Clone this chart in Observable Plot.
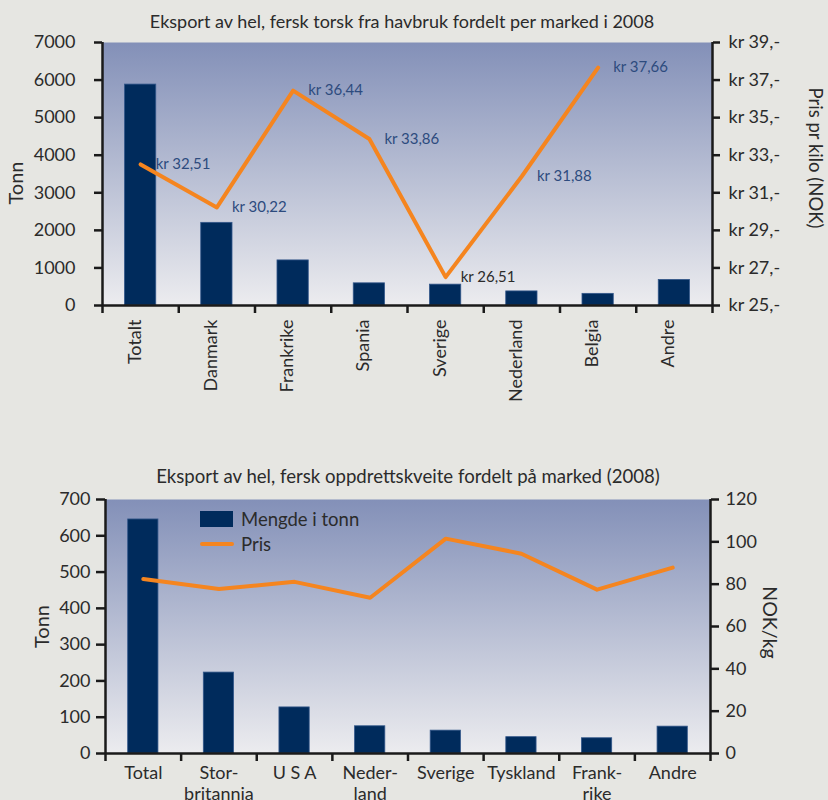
<!DOCTYPE html>
<html>
<head>
<meta charset="utf-8">
<script src="https://cdn.jsdelivr.net/npm/d3@7"></script>
<script src="https://cdn.jsdelivr.net/npm/@observablehq/plot@0.6"></script>
<style>
  body { margin: 0; background: #e6e6e2; font-family: Lato, sans-serif; }
  #wrap { position: relative; width: 828px; height: 800px; overflow: hidden; }
  .title { position: absolute; left: 0; width: 808px; text-align: center; line-height: 22px; color: #2b2b2b; white-space: nowrap; }
  .chart { position: absolute; left: 0; }
  .legend { position: absolute; left: 200px; top: 508px; font-size: 18.5px; color: #2b2b2b; }
  .legend .row { position: relative; height: 25px; }
  .legend .sw { position: absolute; left: 0; top: 3px; width: 33px; height: 16px; background: #002b5c; }
  .legend .ln { position: absolute; left: 0; top: 34px; width: 34px; height: 4px; background: #f5851f; border-radius: 2px; }
  .legend .tx { position: absolute; left: 41px; top: 0; line-height: 22px; white-space: nowrap; }
</style>
</head>
<body>
<div id="wrap">
  <div class="chart" id="c1" style="top:0"></div>
  <div class="chart" id="c2" style="top:460px"></div>
  <div class="title" id="t1" style="top:10px;font-size:18px;width:804px"></div>
  <div class="title" id="t2" style="top:465px;font-size:18.6px;width:816px"></div>
  <div class="legend" id="leg"></div>
</div>
<script>
// ---------- Chart 1 data ----------
const title1 = "Eksport av hel, fersk torsk fra havbruk fordelt per marked i 2008";
const markets1 = ["Totalt", "Danmark", "Frankrike", "Spania", "Sverige", "Nederland", "Belgia", "Andre"];
const tonn1 = [5880, 2200, 1200, 590, 555, 375, 310, 680];
const pris1 = [32.51, 30.22, 36.44, 33.86, 26.51, 31.88, 37.66]; // Andre: no price
const tonnTicks1 = [0, 1000, 2000, 3000, 4000, 5000, 6000, 7000];
const prisTicks1 = [25, 27, 29, 31, 33, 35, 37, 39];
const yLabel1 = "Tonn";
const y2Label1 = "Pris pr kilo (NOK)";

// ---------- Chart 2 data ----------
const title2 = "Eksport av hel, fersk oppdrettskveite fordelt på marked (2008)";
const markets2 = ["Total", "Stor-\nbritannia", "U S A", "Neder-\nland", "Sverige", "Tyskland", "Frank-\nrike", "Andre"];
const tonn2 = [645, 223, 127, 75, 63, 45, 42, 74];
const pris2 = [82.4, 77.7, 81.1, 73.6, 101.5, 94.4, 77.4, 87.8];
const tonnTicks2 = [0, 100, 200, 300, 400, 500, 600, 700];
const prisTicks2 = [0, 20, 40, 60, 80, 100, 120];
const yLabel2 = "Tonn";
const y2Label2 = "NOK/kg";
const legendLabels = ["Mengde i tonn", "Pris"];

const NAVY = "#002b5c", ORANGE = "#f5851f", AXIS = "#1a1a1a", TXT = "#2b2b2b";

document.getElementById("t1").textContent = title1;
document.getElementById("t2").textContent = title2;

function addGradient(el, id) {
  const svg = el.tagName.toLowerCase() === "svg" ? el : el.querySelector("svg");
  d3.select(svg).insert("defs", ":first-child").html(
    `<linearGradient id="${id}" x1="0" y1="0" x2="0" y2="1">
       <stop offset="0" stop-color="#8390b8"/>
       <stop offset="1" stop-color="#ececef"/>
     </linearGradient>`);
}

// ---------- Chart 1 ----------
{
  const max = 7000, pMin = 25, pMax = 39;
  const toY = p => (p - pMin) * max / (pMax - pMin);
  const fromY = v => pMin + v * (pMax - pMin) / max;
  const idx = markets1.map((d, i) => i);
  const pIdx = pris1.map((d, i) => i);
  const fmt = d => "kr " + d.toFixed(2).replace(".", ",");
  const n = markets1.length;
  const plot = Plot.plot({
    width: 828, height: 460,
    marginTop: 42, marginBottom: 155, marginLeft: 102, marginRight: 116,
    style: { fontFamily: "Lato, sans-serif", fontSize: "18px", color: TXT, background: "transparent", overflow: "visible" },
    x: { type: "linear", domain: [0, n], axis: null },
    y: { domain: [0, max], axis: null },
    marks: [
      Plot.frame({ fill: "url(#grad1)", stroke: "none" }),
      Plot.rectY(idx, { x1: i => i + 0.295, x2: i => i + 0.705, y1: 0, y2: i => tonn1[i], fill: NAVY, stroke: "#33578a", strokeWidth: 0.8 }),
      Plot.line(pIdx, { x: i => i + 0.5, y: i => toY(pris1[i]), stroke: ORANGE, strokeWidth: 4 }),
      Plot.text(pIdx.filter(i => i !== 4), { x: i => i + 0.5, y: i => toY(pris1[i]), text: i => fmt(pris1[i]), dx: 15, textAnchor: "start", fill: "#2d4b7e", fontSize: 15 }),
      Plot.text(pIdx.filter(i => i === 4), { x: i => i + 0.5, y: i => toY(pris1[i]), text: i => fmt(pris1[i]), dx: 15, textAnchor: "start", fill: "#2b2b2b", fontSize: 15 }),
      Plot.axisY(tonnTicks1, { anchor: "left", tickSize: 8, tickPadding: 19, label: null, stroke: AXIS, strokeWidth: 2.5, fill: TXT, fontSize: 18, tickFormat: v => String(v) }),
      Plot.axisY(prisTicks1.map(toY), { anchor: "right", tickSize: 7, tickPadding: 9, label: null, stroke: AXIS, strokeWidth: 2.5, fill: TXT, fontSize: 18, tickFormat: v => `kr ${Math.round(fromY(v))},-` }),
      Plot.axisX(d3.range(0, n + 1), { anchor: "bottom", tickSize: 8, label: null, stroke: AXIS, strokeWidth: 2.5, tickFormat: () => "" }),
      Plot.ruleY([0], { stroke: AXIS, strokeWidth: 2.5 }),
      Plot.ruleX([0, n], { stroke: AXIS, strokeWidth: 2.5 }),
      Plot.text(markets1, { x: (d, i) => i + 0.5, frameAnchor: "bottom", dy: 14, rotate: -90, textAnchor: "end", fontSize: 18, fill: TXT }),
      Plot.text([yLabel1], { frameAnchor: "left", dx: -86, dy: 9, rotate: -90, textAnchor: "middle", fontSize: 20, fill: TXT }),
      Plot.text([y2Label1], { frameAnchor: "right", dx: 102, dy: -16, rotate: 90, textAnchor: "middle", fontSize: 18.5, fill: TXT })
    ]
  });
  addGradient(plot, "grad1");
  document.getElementById("c1").appendChild(plot);
}

// ---------- Chart 2 ----------
{
  const max = 700, pMax = 120;
  const toY = p => p * max / pMax;
  const fromY = v => v * pMax / max;
  const idx = markets2.map((d, i) => i);
  const n = markets2.length;
  const plot = Plot.plot({
    width: 828, height: 340,
    marginTop: 39, marginBottom: 47, marginLeft: 105, marginRight: 118,
    style: { fontFamily: "Lato, sans-serif", fontSize: "18px", color: TXT, background: "transparent", overflow: "visible" },
    x: { type: "linear", domain: [0, n], axis: null },
    y: { domain: [0, max], axis: null },
    marks: [
      Plot.frame({ fill: "url(#grad2)", stroke: "none" }),
      Plot.rectY(idx, { x1: i => i + 0.3, x2: i => i + 0.7, y1: 0, y2: i => tonn2[i], fill: NAVY, stroke: "#33578a", strokeWidth: 0.8 }),
      Plot.line(idx, { x: i => i + 0.5, y: i => toY(pris2[i]), stroke: ORANGE, strokeWidth: 4 }),
      Plot.axisY(tonnTicks2, { anchor: "left", tickSize: 9, tickPadding: 6, label: null, stroke: AXIS, strokeWidth: 2.5, fill: TXT, fontSize: 18, tickFormat: v => String(v) }),
      Plot.axisY(prisTicks2.map(toY), { anchor: "right", tickSize: 8, tickPadding: 7, label: null, stroke: AXIS, strokeWidth: 2.5, fill: TXT, fontSize: 18, tickFormat: v => String(Math.round(fromY(v))) }),
      Plot.axisX(d3.range(0, n + 1), { anchor: "bottom", tickSize: 8, label: null, stroke: AXIS, strokeWidth: 2.5, tickFormat: () => "" }),
      Plot.ruleY([0], { stroke: AXIS, strokeWidth: 2.5 }),
      Plot.ruleX([0, n], { stroke: AXIS, strokeWidth: 2.5 }),
      Plot.text(markets2, { x: (d, i) => i + 0.5, frameAnchor: "bottom", dy: 10, lineAnchor: "top", lineHeight: 1.18, fontSize: 18, fill: TXT }),
      Plot.text([yLabel2], { frameAnchor: "left", dx: -63, rotate: -90, textAnchor: "middle", fontSize: 20, fill: TXT }),
      Plot.text([y2Label2], { frameAnchor: "right", dx: 59, dy: -4, rotate: 90, textAnchor: "middle", fontSize: 19.5, fill: TXT })
    ]
  });
  addGradient(plot, "grad2");
  document.getElementById("c2").appendChild(plot);
}

// ---------- Legend (chart 2) ----------
document.getElementById("leg").innerHTML =
  `<div class="row"><div class="sw"></div><div class="tx">${legendLabels[0]}</div></div>` +
  `<div class="ln"></div><div class="row"><div class="tx">${legendLabels[1]}</div></div>`;
</script>
</body>
</html>
